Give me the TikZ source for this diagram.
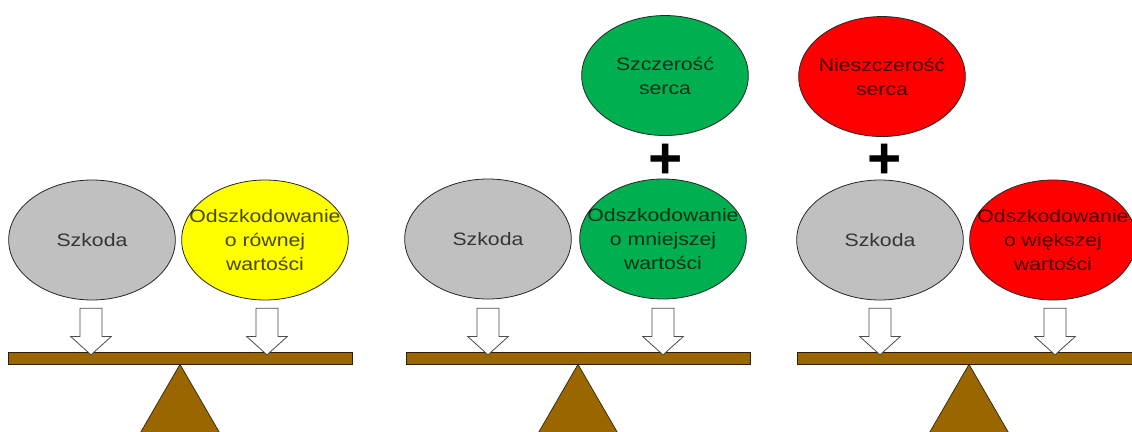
\documentclass[tikz,border=0pt]{standalone}
\usepackage{fontspec}
\setmainfont{Liberation Sans}
\newfontfamily\ovalfont{Liberation Sans}[FakeStretch=1.18]
\usetikzlibrary{shapes.geometric}
\usetikzlibrary{shapes.arrows}
\usetikzlibrary{positioning}
\definecolor{beambrown}{RGB}{153,102,0}
\definecolor{lossgray}{RGB}{192,192,192}
\definecolor{paygreen}{RGB}{0,176,80}
\definecolor{payred}{RGB}{255,0,0}
\definecolor{payyellow}{RGB}{255,255,0}

\begin{document}
\begin{tikzpicture}[x=0.75pt,y=-0.75pt,
		ovalnode/.style={ellipse,draw=black!85,line width=0.6pt,minimum width=125pt,minimum height=90pt,inner sep=0pt},
		every label/.style={align=center,font=\ovalfont\fontsize{13.5}{18}\selectfont,text opacity=0.72},
		beam/.style={rectangle,draw=black!70!beambrown,fill=beambrown,line width=0.5pt,minimum width=258pt,minimum height=9pt,inner sep=0pt},
		fulcrum/.style={draw=black!70!beambrown,fill=beambrown,line width=0.5pt},
		weightarrow/.style={single arrow,draw=black!70,fill=white,line width=0.6pt,shape border rotate=270,minimum height=35pt,inner sep=8pt,single arrow head extend=7pt,single arrow tip angle=96},
		plussign/.style={font=\bfseries\fontsize{44}{44}\selectfont,inner sep=0pt}
		]
		\useasboundingbox (0,0) rectangle (1132,432);
		% pierwsza waga
		\node (lossA) [ovalnode,fill=lossgray,label=center:Szkoda] at (92,240) {};
		\node (payA) [ovalnode,fill=payyellow,label=center:{Odszkodowanie\\o równej\\wartości}] at (265,240) {};
		\node (beamA) [beam] at (180,358) {};
		\node (arrowA1) [weightarrow] at (91,326.5) {};
		\node (arrowA2) [weightarrow] at (267,326.5) {};
		\draw[fulcrum] (beamA.south) -- ++(-44,76) -- ++(88,0) -- cycle;
		% druga waga
		\node (lossB) [ovalnode,fill=lossgray,label=center:Szkoda] at (488,239) {};
		\node (payB) [ovalnode,fill=paygreen,label=center:{Odszkodowanie\\o mniejszej\\wartości}] at (663,239) {};
		\node (heartB) [ovalnode,fill=paygreen,above=32pt of payB,xshift=1.5pt,label=center:{Szczerość\\serca}] {};
		\node (plusB) [plussign] at (666,161) {+};
		\node (beamB) [beam] at (578,358) {};
		\node (arrowB1) [weightarrow] at (488,326.5) {};
		\node (arrowB2) [weightarrow] at (663,326.5) {};
		\draw[fulcrum] (beamB.south) -- ++(-44,76) -- ++(88,0) -- cycle;
		% trzecia waga
		\node (lossC) [ovalnode,fill=lossgray,label=center:Szkoda] at (880,240) {};
		\node (payC) [ovalnode,fill=payred,label=center:{Odszkodowanie\\o większej\\wartości}] at (1053,240) {};
		\node (heartC) [ovalnode,fill=payred,above=32pt of lossC,xshift=1.5pt,label=center:{Nieszczerość\\serca}] {};
		\node (plusC) [plussign] at (885,161) {+};
		\node (beamC) [beam] at (969,358) {};
		\node (arrowC1) [weightarrow] at (880,326.5) {};
		\node (arrowC2) [weightarrow] at (1055,326.5) {};
		\draw[fulcrum] (beamC.south) -- ++(-44,76) -- ++(88,0) -- cycle;
\end{tikzpicture}
\end{document}
